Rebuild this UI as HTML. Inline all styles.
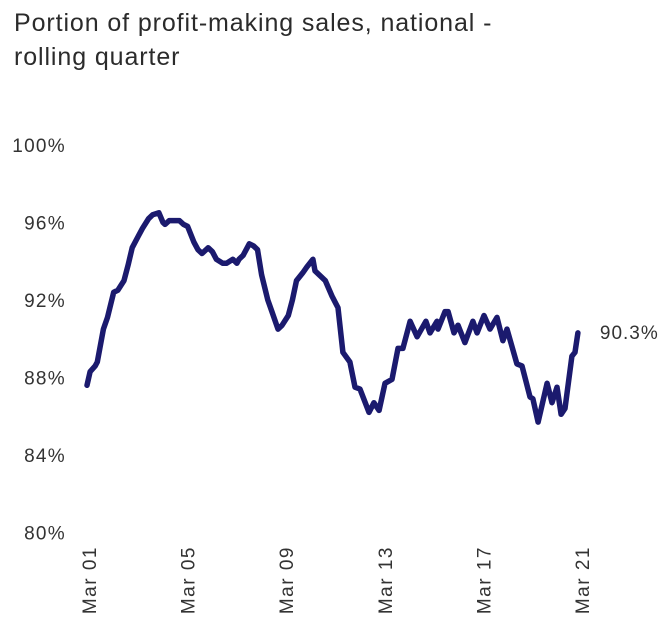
<!DOCTYPE html>
<html><head><meta charset="utf-8"><style>
body{margin:0;background:#fff;font-family:"Liberation Sans",sans-serif}
#t{position:absolute;left:14px;top:6px;font-size:25px;letter-spacing:0.9px;line-height:34px;color:#2b2b2b}
</style></head><body>
<div id="t">Portion of profit-making sales, national -<br>rolling quarter</div>
<svg id="c" width="667" height="642" style="position:absolute;left:0;top:0"></svg>
<script>
const months=[0,1.5,4,5,8,10,13,15,18,20,22,25,27,30,32,35,37,38,40,43,45,47,49,52,54,56,59,61,63,66,68,71,73,74,76,79,81,83,85,88,90,93,95,98,100,102,105,107,110,111,113,116,119.3,122.2,124.6,128,130.5,132.9,137.3,139.7,142.2,145.1,148.5,151.4,153.8,157.3,160.7,165,167,170.4,170.9,174.3,175.8,178.7,180.6,184,187.9,189.9,193.3,196.2,199.6,202.5,204.5,209.3,211.8,215.7,217.1,219.6,224,226.4,228.8,230.8,232.7,236.1,237.6,239];
const values=[87.6,88.3,88.6,88.8,90.5,91.1,92.4,92.5,93.0,93.8,94.7,95.3,95.7,96.2,96.4,96.5,96.0,95.9,96.1,96.1,96.1,95.9,95.8,95.0,94.6,94.4,94.7,94.5,94.1,93.9,93.9,94.1,93.9,94.1,94.3,94.9,94.8,94.6,93.3,92.0,91.4,90.5,90.7,91.2,92.0,93.0,93.4,93.7,94.1,93.5,93.3,93.0,92.2,91.6,89.3,88.8,87.5,87.4,86.2,86.7,86.3,87.7,87.9,89.5,89.5,90.9,90.1,90.9,90.3,90.9,90.5,91.4,91.4,90.3,90.7,89.8,90.9,90.3,91.2,90.5,91.1,89.9,90.5,88.7,88.6,87.0,86.9,85.7,87.7,86.7,87.5,86.1,86.4,89.1,89.3,90.3];
const yTicks=[80,84,88,92,96,100];
const xTickLabels=["Mar 01","Mar 05","Mar 09","Mar 13","Mar 17","Mar 21"];
const xTickMonths=[0,48,96,144,192,240];
const lastLabel="90.3%";
const X=m=>87+m*2.054, Y=v=>145+(100-v)*19.375;
const svg=document.getElementById('c'),NS="http://www.w3.org/2000/svg";
const F='Liberation Sans, sans-serif';
function mk(tag,a,txt){const e=document.createElementNS(NS,tag);for(const k in a)e.setAttribute(k,a[k]);if(txt!=null)e.textContent=txt;svg.appendChild(e);return e;}
yTicks.forEach(v=>{const e=mk('text',{x:66,y:Y(v)+7,'text-anchor':'end','font-size':19,'letter-spacing':1.3,fill:'#333','font-family':F},v+'%');

});
xTickLabels.forEach((l,i)=>{const x=X(xTickMonths[i])+9;const e=mk('text',{x:0,y:0,transform:`translate(${x},546) rotate(-90)`,'text-anchor':'end','font-size':19,'letter-spacing':1.5,fill:'#333','font-family':F},l);

});
const p=mk('path',{d:months.map((m,i)=>(i?'L':'M')+X(m).toFixed(1)+','+Y(values[i]).toFixed(1)).join(''),fill:'none',stroke:'#1b1a6e','stroke-width':5.5,'stroke-linejoin':'round','stroke-linecap':'round'});


const n=months.length-1;
const lb=mk('text',{x:X(months[n])+22,y:Y(values[n])+6,'font-size':19,'letter-spacing':1,fill:'#333','font-family':F},lastLabel);


</script>
</body></html>
